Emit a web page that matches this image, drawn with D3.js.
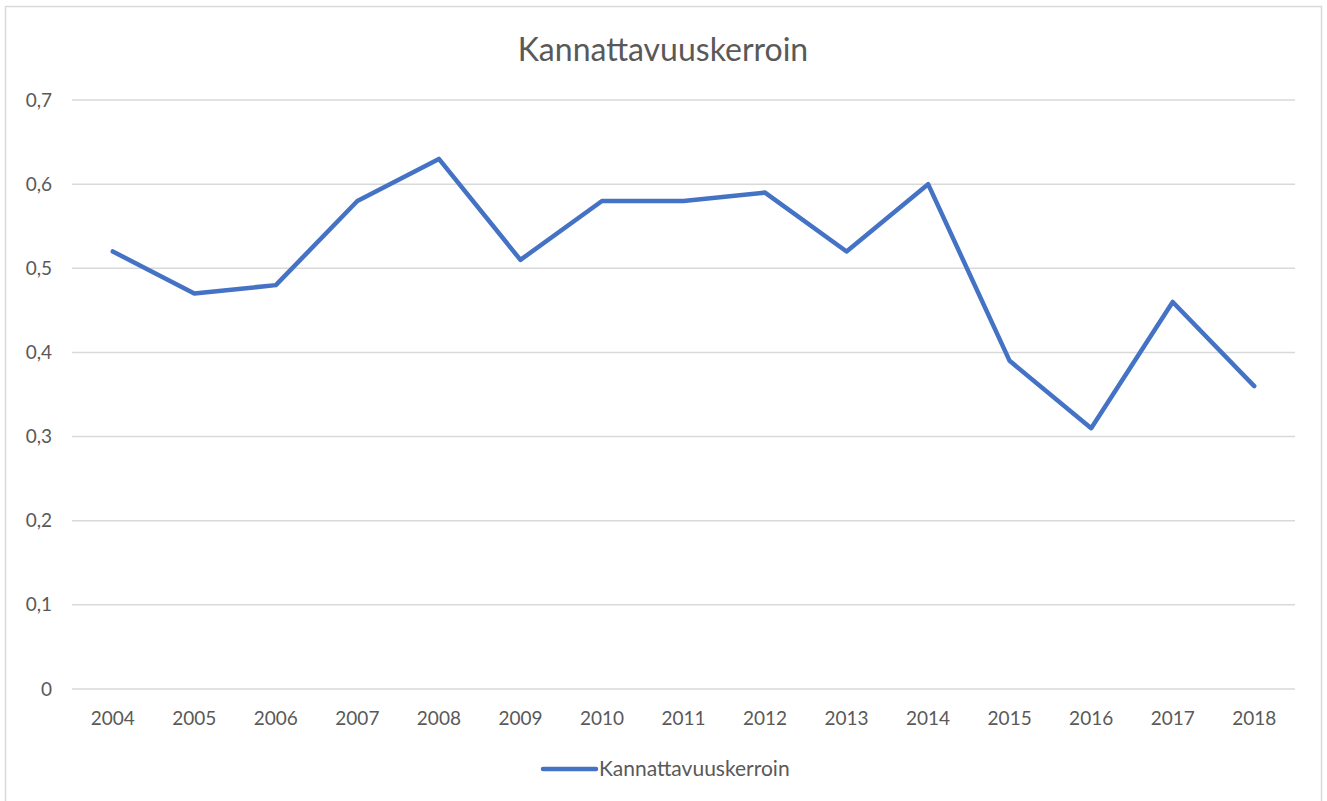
<!DOCTYPE html>
<html>
<head>
<meta charset="utf-8">
<script src="https://cdn.jsdelivr.net/npm/d3@7"></script>
<style>
  html, body { margin: 0; padding: 0; background: #fff; }
  svg { display: block; font-family: Lato, "Open Sans", sans-serif; }
  .axis text { fill: #595959; font-size: 19px; font-family: Lato, sans-serif; }
  .axis path, .axis line { display: none; }
  .grid line { stroke: #d9d9d9; stroke-width: 1.5; }
</style>
</head>
<body>
<div id="chart"></div>
<script>
const title = 'Kannattavuuskerroin';
const seriesName = 'Kannattavuuskerroin';
const years = ['2004', '2005', '2006', '2007', '2008', '2009', '2010', '2011',
  '2012', '2013', '2014', '2015', '2016', '2017', '2018'];
const values = [0.52, 0.47, 0.48, 0.58, 0.63, 0.51, 0.58, 0.58,
  0.59, 0.52, 0.60, 0.39, 0.31, 0.46, 0.36];
const yTicks = [0, 0.1, 0.2, 0.3, 0.4, 0.5, 0.6, 0.7];

const translation = function(x, y) {
  return 'translate(' + x + ',' + y + ')';
};

const W = 1327, H = 801;
const margin = { top: 100, right: 32, bottom: 112, left: 72 };
const width = W - margin.left - margin.right;
const height = H - margin.top - margin.bottom;

const svg = d3.select('#chart').append('svg')
  .attr('width', W)
  .attr('height', H);

// chart frame
svg.append('rect')
  .attr('x', 5.5).attr('y', 6.5)
  .attr('width', 1316).attr('height', 800)
  .attr('fill', '#fff')
  .attr('stroke', '#d9d9d9')
  .attr('stroke-width', 1.5);

svg.append('text')
  .attr('x', 663).attr('y', 61)
  .attr('text-anchor', 'middle')
  .attr('fill', '#595959')
  .style('font-size', '32px')
  .text(title);

const g = svg.append('g').attr('transform', translation(margin.left, margin.top));

const xScale = d3.scaleBand()
  .domain(years)
  .range([0, width]);

const yScale = d3.scaleLinear()
  .domain([0, 0.7])
  .range([height, 0]);

// gridlines
g.append('g')
  .attr('class', 'grid')
  .selectAll('line')
  .data(yTicks)
  .enter().append('line')
  .attr('x1', 0).attr('x2', width)
  .attr('y1', d => yScale(d)).attr('y2', d => yScale(d));

const fmt = d => d === 0 ? '0' : d3.format('.1f')(d).replace('.', ',');

g.append('g')
  .attr('class', 'axis y')
  .call(d3.axisLeft(yScale).tickValues(yTicks).tickFormat(fmt).tickSize(0).tickPadding(20))
  .selectAll('text')
  .attr('dy', '0.32em');

g.append('g')
  .attr('class', 'axis x')
  .attr('transform', translation(0, height))
  .call(d3.axisBottom(xScale).tickSize(0).tickPadding(23));

const line = d3.line()
  .x((d, i) => xScale(years[i]) + xScale.bandwidth() / 2)
  .y(d => yScale(d));

g.append('path')
  .datum(values)
  .attr('fill', 'none')
  .attr('stroke', '#4472c4')
  .attr('stroke-width', 4.5)
  .attr('stroke-linejoin', 'round')
  .attr('stroke-linecap', 'round')
  .attr('d', line);

// legend
const legend = svg.append('g').attr('transform', translation(543, 769));
legend.append('line')
  .attr('x1', 0).attr('x2', 53)
  .attr('y1', 0).attr('y2', 0)
  .attr('stroke', '#4472c4')
  .attr('stroke-width', 4.5)
  .attr('stroke-linecap', 'round');
legend.append('text')
  .attr('x', 56).attr('y', 0)
  .attr('dy', '0.35em')
  .attr('fill', '#595959')
  .style('font-size', '21px')
  .text(seriesName);
</script>
</body>
</html>
